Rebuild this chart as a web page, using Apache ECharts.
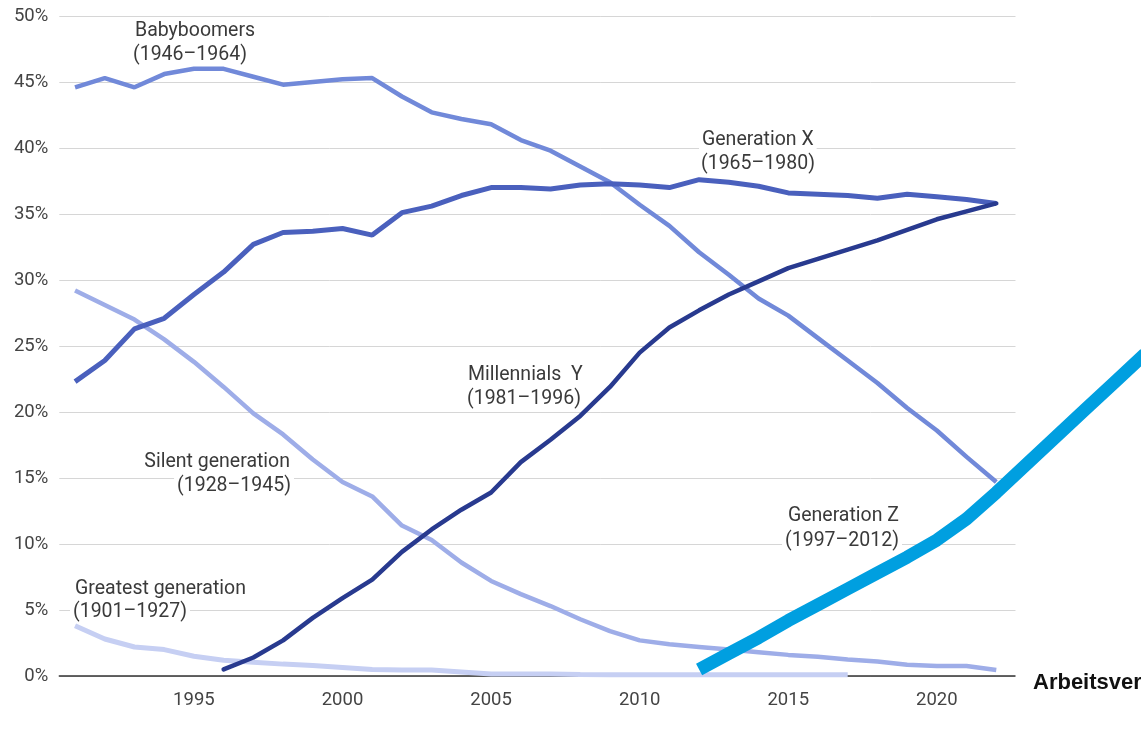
<!DOCTYPE html>
<html>
<head>
<meta charset="utf-8">
<script src="https://cdn.jsdelivr.net/npm/echarts@6/dist/echarts.min.js"></script>
<style>
html,body{margin:0;padding:0;background:#fff;}
#chart{width:1141px;height:734px;}
</style>
</head>
<body>
<div id="chart"></div>
<script>
// ---- data ----
var years = [1991,1992,1993,1994,1995,1996,1997,1998,1999,2000,2001,2002,2003,2004,2005,2006,2007,2008,2009,2010,2011,2012,2013,2014,2015,2016,2017,2018,2019,2020,2021,2022];
var greatestYears = [1991,1992,1993,1994,1995,1996,1997,1998,1999,2000,2001,2002,2003,2004,2005,2006,2007,2008,2009,2010,2011,2012,2013,2014,2015,2016,2017];
var greatest = [3.8,2.8,2.2,2.0,1.5,1.2,1.05,0.9,0.8,0.65,0.5,0.45,0.45,0.3,0.15,0.15,0.15,0.12,0.1,0.1,0.1,0.1,0.1,0.1,0.1,0.1,0.1];
var silent = [29.2,28.1,27.0,25.5,23.8,21.9,19.9,18.3,16.4,14.7,13.6,11.4,10.3,8.6,7.2,6.2,5.3,4.3,3.4,2.7,2.4,2.2,2.0,1.8,1.6,1.45,1.25,1.1,0.85,0.75,0.75,0.45];
var boomers = [44.6,45.3,44.6,45.6,46.0,46.0,45.4,44.8,45.0,45.2,45.3,43.9,42.7,42.2,41.8,40.6,39.8,38.6,37.4,35.7,34.1,32.1,30.4,28.6,27.3,25.6,23.9,22.2,20.3,18.6,16.6,14.7];
var genX = [22.3,23.9,26.3,27.1,28.9,30.6,32.7,33.6,33.7,33.9,33.4,35.1,35.6,36.4,37.0,37.0,36.9,37.2,37.3,37.2,37.0,37.6,37.4,37.1,36.6,36.5,36.4,36.2,36.5,36.3,36.1,35.8];
var millennialYears = [1996,1997,1998,1999,2000,2001,2002,2003,2004,2005,2006,2007,2008,2009,2010,2011,2012,2013,2014,2015,2016,2017,2018,2019,2020,2021,2022];
var millennials = [0.5,1.4,2.7,4.4,5.9,7.3,9.4,11.1,12.6,13.9,16.2,17.9,19.7,21.9,24.5,26.4,27.7,28.9,29.9,30.9,31.6,32.3,33.0,33.8,34.6,35.2,35.8];
var genZYears = [2012,2013,2014,2015,2016,2017,2018,2019,2020,2021,2022,2023,2024,2025,2026,2027];
var genZ = [0.5,1.7,2.9,4.2,5.4,6.6,7.8,9.0,10.3,11.9,13.9,16.0,18.1,20.2,22.3,24.4];
var xTickLabels = [1995,2000,2005,2010,2015,2020];

function pairs(xs, ys){ return xs.map(function(x,i){ return [x, ys[i]]; }); }

var chart = echarts.init(document.getElementById('chart'), null, {renderer:'canvas'});
var txtFont = '19.5px Roboto';
var txtColor = '#3a3a3a';
function label(text, x, y, align){
  return {type:'text', z:1, silent:true,
    style:{text:text, x:x, y:y, textAlign:align||'left', textVerticalAlign:'middle',
      font:txtFont, fill:txtColor, backgroundColor:'#fff', padding:[1,3,1,3]}};
}

// plot frame: gridlines end at x=1015; the axis runs on to the page edge
// (white mask hides it) so the Generation Z line continues past the plot, as in the reference
var option = {
  animation:false,
  backgroundColor:'#fff',
  grid:{left:59.3, right:0, top:16, bottom:58, outerBoundsMode:'none'},
  xAxis:{
    type:'value', min:1990.47, max:2026.87,
    splitLine:{show:false},
    axisTick:{show:false},
    axisLine:{show:true, lineStyle:{color:'#333', width:1.5}},
    axisLabel:{customValues:xTickLabels, formatter:function(v){return String(v);},
      fontFamily:'Roboto', fontSize:18.5, color:'#444', margin:15}
  },
  yAxis:{
    type:'value', min:0, max:50, interval:5,
    axisLine:{show:false}, axisTick:{show:false},
    splitLine:{lineStyle:{color:'#d6d6d6', width:1}},
    axisLabel:{formatter:'{value}%', fontFamily:'Roboto', fontSize:18.5, color:'#444', margin:11}
  },
  series:[
    {name:'Greatest generation', type:'line', data:pairs(greatestYears, greatest), showSymbol:false, symbol:'none',
      lineStyle:{color:'#c6cff3', width:5}, z:2},
    {name:'Silent generation', type:'line', data:pairs(years, silent), showSymbol:false, symbol:'none',
      lineStyle:{color:'#9eade8', width:4.5}, z:3},
    {name:'Babyboomers', type:'line', data:pairs(years, boomers), showSymbol:false, symbol:'none',
      lineStyle:{color:'#7189d9', width:4.5}, z:4},
    {name:'Generation X', type:'line', data:pairs(years, genX), showSymbol:false, symbol:'none',
      lineStyle:{color:'#4a60bd', width:5}, z:5},
    {name:'Millennials Y', type:'line', data:pairs(millennialYears, millennials), showSymbol:false, symbol:'none',
      lineStyle:{color:'#283a8f', width:4.5, cap:'round'}, z:6},
    {name:'Generation Z', type:'line', data:pairs(genZYears, genZ), showSymbol:false, symbol:'none', clip:false,
      lineStyle:{color:'#009fe0', width:13}, z:7}
  ],
  graphic:[
    {type:'rect', z:1, silent:true, shape:{x:1015.5, y:0, width:140, height:682}, style:{fill:'#fff'}},
    label('Babyboomers', 132, 31),
    label('(1946\u20131964)', 130, 55),
    label('Generation X', 699, 140),
    label('(1965\u20131980)', 698, 164),
    label('Millennials  Y', 465, 375),
    label('(1981\u20131996)', 464, 399),
    label('Silent generation', 293, 462, 'right'),
    label('(1928\u20131945)', 294, 486, 'right'),
    label('Generation Z', 902, 516, 'right'),
    label('(1997\u20132012)', 902, 541, 'right'),
    label('Greatest generation', 72, 589),
    label('(1901\u20131927)', 70, 612),
    {type:'text', z:1, silent:true,
      style:{text:'Arbeitsver', x:1033, y:683, textAlign:'left', textVerticalAlign:'middle',
        font:'bold 22px "Liberation Sans", Arial, sans-serif', fill:'#111'}}
  ]
};
chart.setOption(option);
</script>
</body>
</html>
